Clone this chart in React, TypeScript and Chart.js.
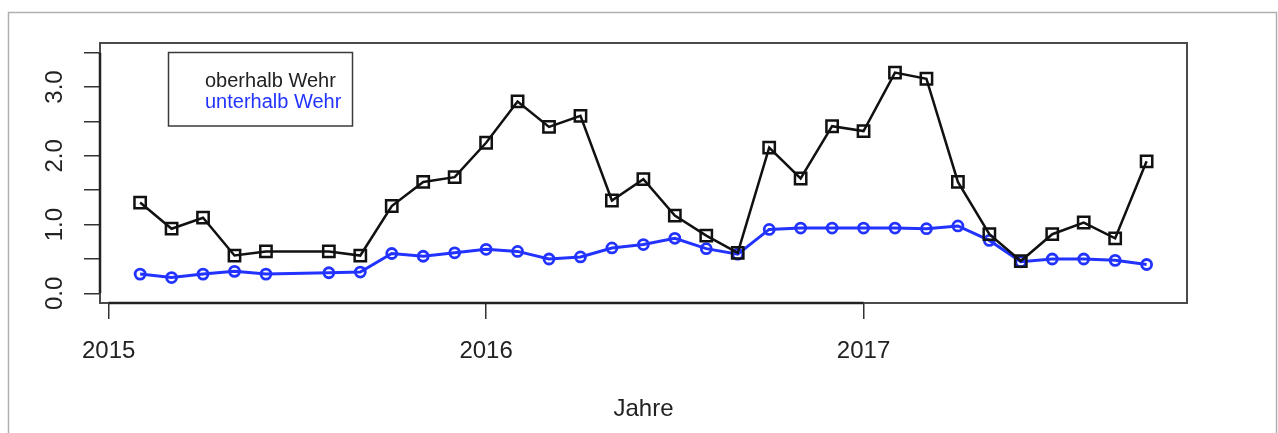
import React, { useEffect, useRef } from "react";
import { Chart, registerables } from "chart.js";

Chart.register(...registerables);

// ---- data ----
const months = [
  "2015-02", "2015-03", "2015-04", "2015-05", "2015-06", "2015-08", "2015-09", "2015-10", "2015-11", "2015-12",
  "2016-01", "2016-02", "2016-03", "2016-04", "2016-05", "2016-06", "2016-07", "2016-08", "2016-09", "2016-10", "2016-11", "2016-12",
  "2017-01", "2017-02", "2017-03", "2017-04", "2017-05", "2017-06", "2017-07", "2017-08", "2017-09", "2017-10",
];
const oberhalb = [
  1.32, 0.94, 1.10, 0.55, 0.61, 0.61, 0.55, 1.27, 1.62, 1.69,
  2.19, 2.79, 2.42, 2.58, 1.35, 1.66, 1.13, 0.84, 0.59, 2.12, 1.67, 2.43,
  2.36, 3.21, 3.12, 1.62, 0.86, 0.47, 0.86, 1.03, 0.80, 1.92,
];
const unterhalb = [
  0.28, 0.23, 0.28, 0.32, 0.28, 0.30, 0.31, 0.58, 0.54, 0.59,
  0.64, 0.61, 0.50, 0.53, 0.66, 0.71, 0.80, 0.65, 0.57, 0.93, 0.95, 0.95,
  0.95, 0.95, 0.94, 0.98, 0.77, 0.46, 0.50, 0.50, 0.48, 0.42,
];
const xTicks = [2015, 2016, 2017];
const yTicks = [0, 0.5, 1, 1.5, 2, 2.5, 3, 3.5];
const seriesNames = ["oberhalb Wehr", "unterhalb Wehr"];
const xTitle = "Jahre";

const BLUE = "#2233ff";
const FONT = "'Liberation Sans', Arial, Helvetica, sans-serif";

const toYear = (m: string) => {
  const [y, mo] = m.split("-").map(Number);
  return y + (mo - 1) / 12;
};

const decorPlugin = {
  id: "decor",
  beforeDraw(chart: any) {
    const ctx = chart.ctx;
    ctx.save();
    ctx.strokeStyle = "#b0b0b0";
    ctx.lineWidth = 1.5;
    ctx.strokeRect(8.5, 12.5, 1268, 500);
    ctx.restore();
  },
  afterDraw(chart: any) {
    const ctx = chart.ctx;
    const a = chart.chartArea;
    const xs = chart.scales.x;
    const ys = chart.scales.y;
    ctx.save();
    // plot box
    ctx.strokeStyle = "#4a4a4a";
    ctx.lineWidth = 2;
    ctx.strokeRect(a.left, a.top, a.right - a.left, a.bottom - a.top);
    // axis lines between first and last ticks
    ctx.strokeStyle = "#222";
    ctx.lineWidth = 2.5;
    ctx.beginPath();
    ctx.moveTo(xs.getPixelForValue(xTicks[0]), a.bottom);
    ctx.lineTo(xs.getPixelForValue(xTicks[xTicks.length - 1]), a.bottom);
    ctx.moveTo(a.left, ys.getPixelForValue(yTicks[0]));
    ctx.lineTo(a.left, ys.getPixelForValue(yTicks[yTicks.length - 1]));
    ctx.stroke();
    // legend box
    const lx = a.left + 68.5;
    const ly = 52.5;
    ctx.strokeStyle = "#3a3a3a";
    ctx.lineWidth = 1.5;
    ctx.strokeRect(lx, ly, 184, 73.5);
    ctx.font = `20px ${FONT}`;
    ctx.textBaseline = "alphabetic";
    ctx.textAlign = "left";
    ctx.fillStyle = "#222";
    ctx.fillText(seriesNames[0], 205, 86.5);
    ctx.fillStyle = BLUE;
    ctx.fillText(seriesNames[1], 205, 108);
    ctx.restore();
  },
};

export default function App() {
  const ref = useRef<HTMLCanvasElement | null>(null);

  useEffect(() => {
    if (!ref.current) return;
    const chart = new Chart(ref.current, {
      type: "line",
      data: {
        datasets: [
          {
            label: seriesNames[0],
            data: months.map((m, i) => ({ x: toYear(m), y: oberhalb[i] })),
            borderColor: "#111",
            borderWidth: 2.5,
            pointStyle: "rect",
            pointRadius: 8,
            pointBorderWidth: 2.5,
            pointBorderColor: "#111",
            pointBackgroundColor: "rgba(0,0,0,0)",
            tension: 0,
          },
          {
            label: seriesNames[1],
            data: months.map((m, i) => ({ x: toYear(m), y: unterhalb[i] })),
            borderColor: BLUE,
            borderWidth: 3,
            pointStyle: "circle",
            pointRadius: 5,
            pointBorderWidth: 2.8,
            pointBorderColor: BLUE,
            pointBackgroundColor: "rgba(0,0,0,0)",
            tension: 0,
          },
        ],
      },
      options: {
        animation: false,
        responsive: false,
        layout: { padding: { left: 0, top: 43, right: 91, bottom: 0 } },
        plugins: { legend: { display: false }, tooltip: { enabled: false } },
        scales: {
          x: {
            type: "linear",
            min: 2014.977,
            max: 2017.857,
            afterBuildTicks: (s: any) => {
              s.ticks = xTicks.map((v) => ({ value: v }));
            },
            afterFit: (s: any) => {
              s.height = 130;
            },
            grid: {
              display: true,
              drawOnChartArea: false,
              drawTicks: true,
              tickLength: 16,
              color: "#333",
              lineWidth: 1.5,
            },
            border: { display: false },
            ticks: {
              autoSkip: false,
              maxRotation: 0,
              minRotation: 0,
              padding: 18,
              color: "#222",
              font: { family: FONT, size: 24 },
              callback: (v: any) => String(v),
            },
            title: {
              display: true,
              text: xTitle,
              color: "#222",
              font: { family: FONT, size: 24 },
              padding: { top: 0, bottom: 9 },
            },
          },
          y: {
            type: "linear",
            min: -0.14,
            max: 3.64,
            afterBuildTicks: (s: any) => {
              s.ticks = yTicks.map((v) => ({ value: v }));
            },
            afterFit: (s: any) => {
              s.width = 100;
            },
            grid: {
              display: true,
              drawOnChartArea: false,
              drawTicks: true,
              tickLength: 16,
              color: "#333",
              lineWidth: 1.5,
            },
            border: { display: false },
            ticks: {
              autoSkip: false,
              minRotation: 90,
              maxRotation: 90,
              crossAlign: "center",
              padding: 12,
              color: "#222",
              font: { family: FONT, size: 24 },
              callback: (v: any) => (Number.isInteger(v) ? Number(v).toFixed(1) : ""),
            },
          },
        },
      },
      plugins: [decorPlugin],
    } as any);
    return () => chart.destroy();
  }, []);

  return (
    <div style={{ position: "absolute", left: 0, top: 0, width: 1278, height: 433, background: "#fff" }}>
      <canvas ref={ref} width={1278} height={433} style={{ display: "block" }} />
    </div>
  );
}
